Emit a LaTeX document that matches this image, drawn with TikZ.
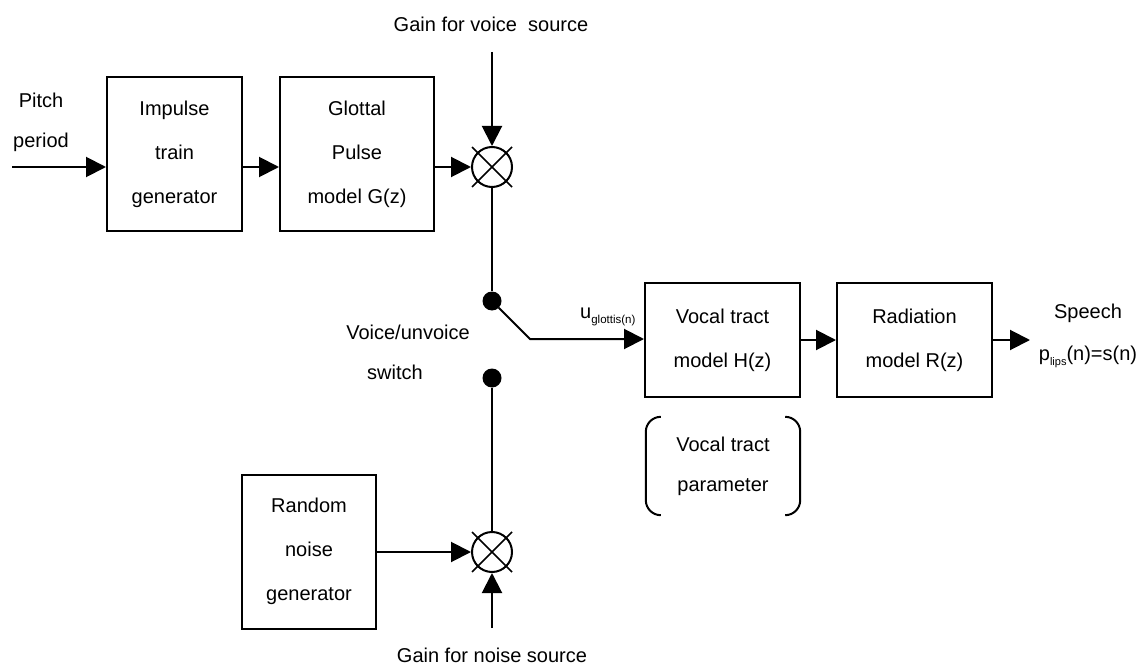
\documentclass[tikz,border=0pt]{standalone}
\usepackage{fontspec}
\setmainfont{Liberation Sans}
\usetikzlibrary{arrows.meta}
\begin{document}
\begin{tikzpicture}[x=1pt,y=-1pt,
  lbl/.style={font=\fontsize{20}{40}\selectfont, align=center, inner sep=0pt},
  blk/.style={draw, line width=2pt, font=\fontsize{20}{44}\selectfont, align=center, inner sep=0pt},
  wire/.style={line width=2pt},
  thinwire/.style={line width=1.6pt},
  arr/.style={line width=2pt, -{Triangle[length=20pt,width=20pt]}},
  mix/.style={draw, circle, line width=2pt, minimum size=40pt, inner sep=0pt},
  swdot/.style={circle, fill, minimum size=19pt, inner sep=0pt},
]
\useasboundingbox (0,0) rectangle (1141,666);

% processing blocks
\node[blk, minimum width=135pt, minimum height=154pt] (imp) at (174.5,154) {Impulse\\train\\generator};
\node[blk, minimum width=154pt, minimum height=154pt] (glot) at (357,154) {Glottal\\Pulse\\model G(z)};
\node[blk, minimum width=155pt, minimum height=114pt] (vocal) at (722.5,340) {Vocal tract\\model H(z)};
\node[blk, minimum width=155pt, minimum height=114pt] (rad) at (914.5,340) {Radiation\\model R(z)};
\node[blk, minimum width=134pt, minimum height=154pt] (noise) at (309,551.5) {Random\\noise\\generator};

% multipliers
\node[mix] (mulV) at (492,167) {};
\node[mix] (mulN) at (492,552) {};
\foreach \m in {mulV,mulN} {
  \draw[thinwire] ([shift={(-20,-20)}]\m.center) -- ([shift={(20,20)}]\m.center);
  \draw[thinwire] ([shift={(-20,20)}]\m.center) -- ([shift={(20,-20)}]\m.center);
}

% switch contacts
\node[swdot] (sw1) at (492,301) {};
\node[swdot] (sw2) at (492,378) {};

% parameter bracket
\node[lbl, minimum width=154pt, minimum height=98pt] (param) at (723,466) {Vocal tract\\parameter};
\draw[wire, rounded corners=15pt] ([xshift=15pt]param.north west) -- (param.north west) -- (param.south west) -- ([xshift=15pt]param.south west);
\draw[wire, rounded corners=15pt] ([xshift=-15pt]param.north east) -- (param.north east) -- (param.south east) -- ([xshift=-15pt]param.south east);

% free ends
\coordinate (pin) at (12,167);
\coordinate (gv) at (492,52);
\coordinate (gn) at (492,628);
\coordinate (knee) at (530,339);
\coordinate (out) at (1030,340);

% connectors
\draw[arr] (pin) -- (imp.west |- pin);
\draw[arr] (imp.east |- mulV) -- (glot.west |- mulV);
\draw[arr] (glot.east |- mulV) -- (mulV);
\draw[arr] (gv) -- (mulV);
\draw[wire] (mulV) -- (sw1);
\draw[arr] (sw1) -- (knee) -- (vocal.west |- knee);
\draw[arr] (vocal) -- (rad);
\draw[arr] (rad) -- (out);
\draw[wire] (sw2) -- (mulN);
\draw[arr] (noise.east |- mulN) -- (mulN);
\draw[arr] (gn) -- (mulN);

% labels
\node[lbl] (pitch) at (41,122) {Pitch\\period};
\node[lbl, anchor=base] (gvl) at (491,32) {Gain for voice\ \ source};
\node[lbl, anchor=base] (gnl) at (492,662) {Gain for noise source};
\node[lbl] (vu1) at (408,332) {Voice/unvoice};
\node[lbl] (vu2) at (395,372) {switch};
\node[lbl, anchor=base west] (ug) at (580,318) {u\raisebox{-5pt}{\fontsize{11.5}{12}\selectfont glottis(n)}};
\node[lbl] (sp1) at (1088,313) {Speech};
\node[lbl, anchor=base] (sp2) at (1088,360) {p\raisebox{-5pt}{\fontsize{11}{12}\selectfont lips}(n)=s(n)};
\end{tikzpicture}
\end{document}
